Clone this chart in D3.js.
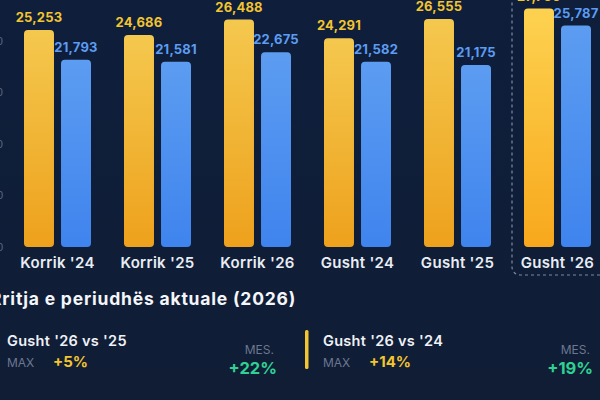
<!DOCTYPE html>
<html lang="sq">
<head>
  <meta charset="UTF-8">
  <title>Korrik / Gusht</title>
  <script src="https://d3js.org/d3.v7.min.js"></script>
  <style>
    body {
      margin: 0;
      padding: 0;
      background: #0f1d36;
      overflow: hidden;
      font-family: Inter, "Open Sans", sans-serif;
    }
    svg { display: block; }
    .val { font-size: 13px; font-weight: 700; text-anchor: middle; letter-spacing: 0.2px; }
    .cat { font-size: 15px; font-weight: 600; fill: #e9edf4; text-anchor: middle; letter-spacing: 0.3px; }
    .title { font-size: 17.5px; font-weight: 700; fill: #f4f6fa; letter-spacing: 0.8px; }
    .cmp { font-size: 14.5px; font-weight: 600; fill: #eef1f6; letter-spacing: 0.3px; }
    .small { font-size: 12px; fill: #6c7791; }
  </style>
</head>
<body>
  <script>
    // data
    const periods = ["Korrik '24", "Korrik '25", "Korrik '26", "Gusht '24", "Gusht '25", "Gusht '26"];
    const maxValues = [25253, 24686, 26488, 24291, 26555, 27760];
    const mesValues = [21793, 21581, 22675, 21582, 21175, 25787];
    const yTicks = [0, 6000, 12000, 18000, 24000];
    const highlight = "Gusht '26";

    const compareLabels = ["Gusht '26 vs '25", "Gusht '26 vs '24"];
    const compareMax = ["+5%", "+14%"];
    const compareMes = ["+22%", "+19%"];

    const W = 600, H = 400;
    const baseY = 247;

    const svg = d3.select("body").append("svg")
      .attr("width", W)
      .attr("height", H);

    const defs = svg.append("defs");
    const bg = defs.append("linearGradient").attr("id", "bg").attr("x1", 0).attr("x2", 0).attr("y1", 0).attr("y2", 1);
    bg.append("stop").attr("offset", "0%").attr("stop-color", "#0e1e3b");
    bg.append("stop").attr("offset", "100%").attr("stop-color", "#101d35");

    const gold = defs.append("linearGradient").attr("id", "gold").attr("x1", 0).attr("x2", 0).attr("y1", 0).attr("y2", 1);
    gold.append("stop").attr("offset", "0%").attr("stop-color", "#f4c84e");
    gold.append("stop").attr("offset", "100%").attr("stop-color", "#eea11c");

    const goldHi = defs.append("linearGradient").attr("id", "goldHi").attr("x1", 0).attr("x2", 0).attr("y1", 0).attr("y2", 1);
    goldHi.append("stop").attr("offset", "0%").attr("stop-color", "#fdd250");
    goldHi.append("stop").attr("offset", "100%").attr("stop-color", "#f8a81c");

    const blue = defs.append("linearGradient").attr("id", "blue").attr("x1", 0).attr("x2", 0).attr("y1", 0).attr("y2", 1);
    blue.append("stop").attr("offset", "0%").attr("stop-color", "#5c9cf1");
    blue.append("stop").attr("offset", "100%").attr("stop-color", "#3f84ee");

    svg.append("rect").attr("width", W).attr("height", H).attr("fill", "url(#bg)");

    const x = d3.scaleBand()
      .domain(periods)
      .range([7.5, 607.5])
      .paddingInner(0.33)
      .paddingOuter(0.165);

    const xSub = d3.scaleBand()
      .domain(["max", "mes"])
      .range([0, x.bandwidth()])
      .paddingInner(0.19);

    const y = d3.scaleLinear()
      .domain([0, 28000])
      .range([baseY, 6.5]);

    // y axis, mostly cut off at the left edge
    svg.append("g")
      .attr("transform", "translate(3,0)")
      .call(d3.axisLeft(y).tickValues(yTicks).tickSize(0).tickFormat(d3.format(",")))
      .call(g => g.select(".domain").remove())
      .call(g => g.selectAll("text")
        .attr("fill", "#5d6882")
        .style("font-size", "11px")
        .attr("x", 0));

    // highlight box round the current period
    svg.append("rect")
      .attr("x", x(highlight) - 12)
      .attr("y", -20)
      .attr("width", 120)
      .attr("height", 295)
      .attr("rx", 8)
      .attr("fill", "none")
      .attr("stroke", "#7f8aa0")
      .attr("stroke-width", 1.2)
      .attr("stroke-dasharray", "3,3");

    const rows = periods.map((p, i) => ({ period: p, max: maxValues[i], mes: mesValues[i] }));

    const groups = svg.append("g")
      .selectAll("g")
      .data(rows)
      .join("g")
      .attr("transform", d => `translate(${x(d.period)},0)`);

    groups.append("rect")
      .attr("x", xSub("max"))
      .attr("y", d => y(d.max))
      .attr("width", xSub.bandwidth())
      .attr("height", d => baseY - y(d.max))
      .attr("rx", 4)
      .attr("fill", d => d.period === highlight ? "url(#goldHi)" : "url(#gold)");

    groups.append("rect")
      .attr("x", xSub("mes"))
      .attr("y", d => y(d.mes))
      .attr("width", xSub.bandwidth())
      .attr("height", d => baseY - y(d.mes))
      .attr("rx", 4)
      .attr("fill", "url(#blue)");

    groups.append("text")
      .attr("class", "val")
      .attr("x", xSub("max") + xSub.bandwidth() / 2)
      .attr("y", d => y(d.max) - 8)
      .attr("fill", "#f3c52e")
      .text(d => d3.format(",")(d.max));

    groups.append("text")
      .attr("class", "val")
      .attr("x", xSub("mes") + xSub.bandwidth() / 2)
      .attr("y", d => y(d.mes) - 8)
      .attr("fill", "#5c9cf1")
      .text(d => d3.format(",")(d.mes));

    groups.append("text")
      .attr("class", "cat")
      .attr("x", x.bandwidth() / 2)
      .attr("y", 268)
      .text(d => d.period);

    // bottom section
    svg.append("text")
      .attr("class", "title")
      .attr("x", -10)
      .attr("y", 305)
      .text("Rritja e periudhës aktuale (2026)");

    const cardX = d3.scaleBand()
      .domain(compareLabels)
      .range([7, 639]);

    const cards = svg.append("g")
      .selectAll("g")
      .data(compareLabels.map((c, i) => ({ label: c, max: compareMax[i], mes: compareMes[i] })))
      .join("g")
      .attr("transform", d => `translate(${cardX(d.label)},0)`);

    cards.append("rect")
      .attr("x", -18)
      .attr("y", 330)
      .attr("width", 3.5)
      .attr("height", 39)
      .attr("rx", 1.5)
      .attr("fill", "#f3c52e");

    cards.append("text")
      .attr("class", "cmp")
      .attr("x", 0)
      .attr("y", 346)
      .text(d => d.label);

    cards.append("text")
      .attr("class", "small")
      .attr("x", 0)
      .attr("y", 367)
      .text("MAX");

    cards.append("text")
      .attr("x", 46)
      .attr("y", 367)
      .attr("fill", "#f3c52e")
      .style("font-size", "15px")
      .style("font-weight", 700)
      .text(d => d.max);

    cards.append("text")
      .attr("class", "small")
      .attr("x", 267)
      .attr("y", 354)
      .attr("text-anchor", "end")
      .text("MES.");

    cards.append("text")
      .attr("x", 270)
      .attr("y", 374)
      .attr("text-anchor", "end")
      .attr("fill", "#2fd193")
      .style("font-size", "16.5px")
      .style("font-weight", 700)
      .text(d => d.mes);
  </script>
</body>
</html>
